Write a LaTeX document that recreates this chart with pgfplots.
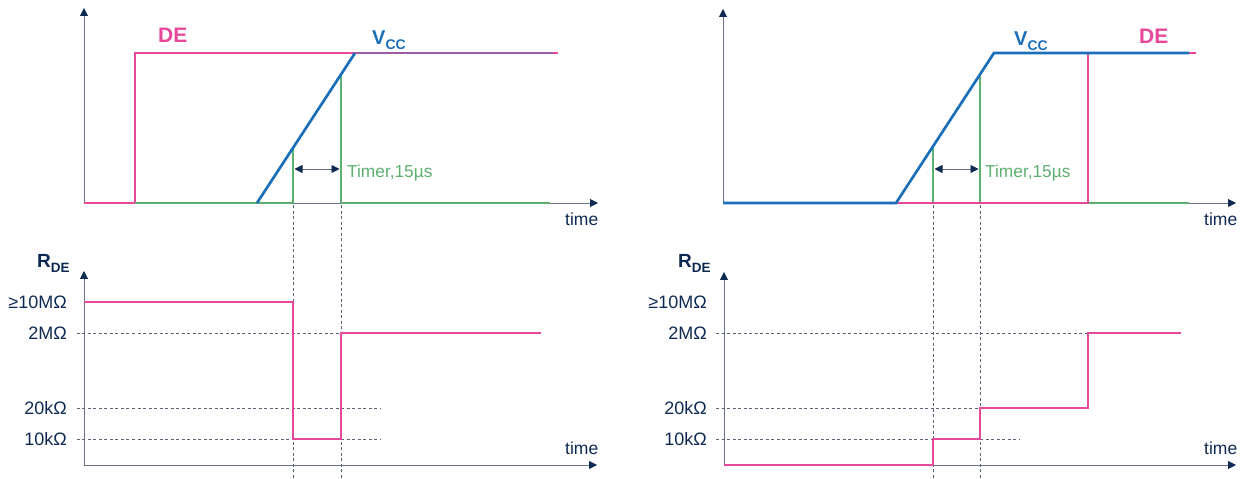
\documentclass[border=0pt]{standalone}
\usepackage{fontspec}
\setmainfont{Liberation Sans}
\usepackage{pgfplots}
\pgfplotsset{compat=1.18}
\usetikzlibrary{arrows.meta}
\definecolor{pinkc}{HTML}{E6489A}
\definecolor{bluec}{HTML}{1A6FB8}
\definecolor{greenc}{HTML}{5DB070}
\definecolor{purplec}{HTML}{9A5BA8}
\definecolor{navy}{HTML}{0F2A52}
\definecolor{axc}{HTML}{6A7384}
\definecolor{dashc}{HTML}{5A6275}
\pgfplotsset{
  panel/.style={scale only axis, anchor=south west, axis lines=left, clip=false,
    x axis line style={draw=axc, line width=0.9pt, -{Triangle[length=8pt,width=8pt,color=navy]}},
    y axis line style={draw=axc, line width=0.9pt, -{Triangle[length=8pt,width=8pt,color=navy]}},
    xtick=\empty, ytick=\empty, major tick length=0pt},
  rpanel/.style={panel, ytick={176,145,70,39},
    yticklabels={≥10MΩ,2MΩ,20kΩ,10kΩ},
    yticklabel style={font=\fontsize{18}{18}\selectfont, text=navy, inner sep=0pt, anchor=east, xshift=-17pt}},
  sig/.style={line width=2.7pt, no marks},
  dsh/.style={dashc, line width=0.8pt, dash pattern=on 3pt off 2.5pt, no marks},
  arr/.style={axc, line width=0.9pt, no marks, {Triangle[length=8pt,width=8pt,color=navy]}-{Triangle[length=8pt,width=8pt,color=navy]}},
}
\newcommand{\timefont}{\fontsize{17.5}{18}\selectfont}
\begin{document}
\begin{tikzpicture}
\path (0pt,0pt) rectangle (1251pt,478pt);
% ---------------- top left
\begin{axis}[panel, at={(84pt,275pt)}, width=514pt, height=195pt,
  xmin=84, xmax=598, ymin=275, ymax=470]
\addplot[sig, pinkc] coordinates {(84,275) (135,275) (135,425) (558,425)};
\addplot[sig, greenc] coordinates {(135,275) (293,275)};
\addplot[sig, greenc] coordinates {(341,275) (550,275)};
\addplot[sig, greenc] coordinates {(293,275) (293,329.6)};
\addplot[sig, greenc] coordinates {(341,275) (341,403)};
\addplot[sig, bluec] coordinates {(257,275) (355,425)};
\addplot[sig, purplec] coordinates {(355,425) (553,425)};
\addplot[arr] coordinates {(294.5,309) (339.5,309)};
\node[anchor=base west, inner sep=0pt, text=pinkc, font=\fontsize{21}{21}\selectfont\bfseries] at (axis cs:158,435) {DE};
\node[anchor=base west, inner sep=0pt, text=bluec, font=\bfseries] at (axis cs:372,433) {\fontsize{20}{20}\selectfont V\raisebox{-5pt}{\fontsize{14}{14}\selectfont CC}};
\node[anchor=base west, inner sep=0pt, text=greenc, font=\fontsize{17.3}{17}\selectfont] at (axis cs:347,300) {Timer,15µs};
\node[anchor=base west, inner sep=0pt, text=navy, font=\timefont] at (axis cs:565,252) {time};
\end{axis}
% ---------------- top right
\begin{axis}[panel, at={(723pt,275pt)}, width=513pt, height=194pt,
  xmin=723, xmax=1236, ymin=275, ymax=469]
\addplot[sig, greenc] coordinates {(1088,275) (1189,275)};
\addplot[sig, greenc] coordinates {(933,275) (933,331.6)};
\addplot[sig, greenc] coordinates {(980,275) (980,403.6)};
\addplot[sig, pinkc] coordinates {(896,275) (1088,275) (1088,425) (1196,425)};
\addplot[sig, bluec] coordinates {(723,275) (896,275) (994,425) (1189,425)};
\addplot[arr] coordinates {(934.5,309) (978.5,309)};
\node[anchor=base west, inner sep=0pt, text=bluec, font=\bfseries] at (axis cs:1014,432) {\fontsize{20}{20}\selectfont V\raisebox{-5pt}{\fontsize{14}{14}\selectfont CC}};
\node[anchor=base west, inner sep=0pt, text=pinkc, font=\fontsize{21}{21}\selectfont\bfseries] at (axis cs:1139,434) {DE};
\node[anchor=base west, inner sep=0pt, text=greenc, font=\fontsize{17.3}{17}\selectfont] at (axis cs:985,300) {Timer,15µs};
\node[anchor=base west, inner sep=0pt, text=navy, font=\timefont] at (axis cs:1204,252) {time};
\end{axis}
% ---------------- bottom left
\begin{axis}[rpanel, at={(84pt,13pt)}, width=513pt, height=194pt,
  xmin=84, xmax=597, ymin=13, ymax=207]
\addplot[dsh] coordinates {(77,145) (381,145)};
\addplot[dsh] coordinates {(77,70) (381,70)};
\addplot[dsh] coordinates {(77,39) (381,39)};
\addplot[dsh] coordinates {(293,0) (293,273)};
\addplot[dsh] coordinates {(341,0) (341,273)};
\addplot[sig, pinkc] coordinates {(84,176) (293,176) (293,39) (341,39) (341,145) (541,145)};
\node[anchor=base west, inner sep=0pt, text=navy, font=\bfseries] at (axis cs:37,210) {\fontsize{19}{19}\selectfont R\raisebox{-5pt}{\fontsize{13.5}{13}\selectfont DE}};
\node[anchor=base west, inner sep=0pt, text=navy, font=\timefont] at (axis cs:565,23) {time};
\end{axis}
% ---------------- bottom right
\begin{axis}[rpanel, at={(724pt,13pt)}, width=512pt, height=193pt,
  xmin=724, xmax=1236, ymin=13, ymax=206]
\addplot[dsh] coordinates {(716,145) (1088,145)};
\addplot[dsh] coordinates {(716,70) (980,70)};
\addplot[dsh] coordinates {(716,39) (1020,39)};
\addplot[dsh] coordinates {(933,0) (933,273)};
\addplot[dsh] coordinates {(980,0) (980,273)};
\addplot[sig, pinkc] coordinates {(724,13) (933,13) (933,39) (980,39) (980,70) (1088,70) (1088,145) (1181,145)};
\node[anchor=base west, inner sep=0pt, text=navy, font=\bfseries] at (axis cs:678,210) {\fontsize{19}{19}\selectfont R\raisebox{-5pt}{\fontsize{13.5}{13}\selectfont DE}};
\node[anchor=base west, inner sep=0pt, text=navy, font=\timefont] at (axis cs:1204,23) {time};
\end{axis}
\end{tikzpicture}
\end{document}
